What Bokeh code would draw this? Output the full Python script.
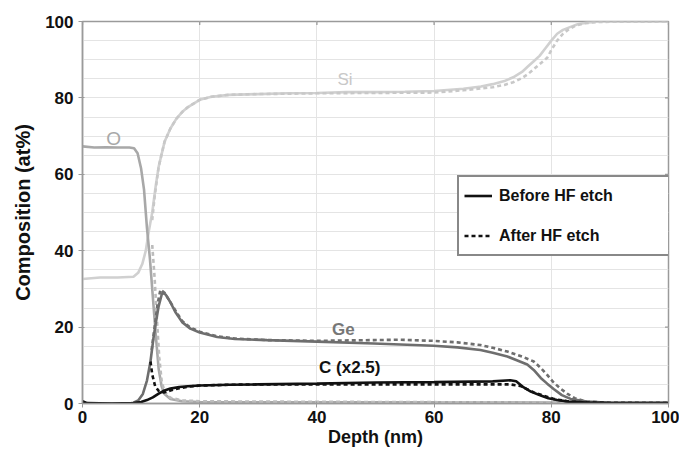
from bokeh.plotting import figure
from bokeh.models import (Range1d, FixedTicker, SingleIntervalTicker,
                          Legend, LegendItem, ColumnDataSource)
from bokeh.core.properties import value
from bokeh.embed import file_html
from bokeh.resources import INLINE

# ---------------- data ----------------
si_before_x = [0, 3, 6, 8.7, 9.5, 10.2, 10.8, 11.3, 11.9, 12.5, 13, 14, 15, 16, 17, 18, 20, 22, 25, 30,
               35, 40, 45, 50, 55, 60, 65, 68, 70, 72, 73.5, 75, 76, 77, 78, 79, 80, 81, 82, 83.3,
               84.5, 86, 88, 100]
si_before_y = [32.6, 33, 33, 33.2, 34.2, 36.5, 40, 45, 50, 57, 62, 68.5, 72, 74.5, 76.3, 77.6, 79.5,
               80.3, 80.8, 81, 81.2, 81.3, 81.5, 81.5, 81.6, 81.8, 82.4, 83, 83.6, 84.4, 85.4, 86.8,
               88.2, 89.6, 91, 93, 95, 96.8, 97.8, 98.6, 99.3, 99.7, 100, 100]
si_after_x = [11.9, 12.3, 13, 14, 15, 16, 17, 18, 20, 22, 25, 30, 40, 50, 60, 65, 70, 72, 73.5, 75,
              76, 77, 78, 79.3, 80, 81, 82, 83, 84, 85.5, 88, 100]
si_after_y = [48, 54, 62, 68.5, 72, 74.5, 76.3, 77.6, 79.5, 80.3, 80.8, 81, 81.2, 81.3, 81.4, 82,
              82.8, 83.4, 84.1, 85.2, 86.2, 87.5, 88.8, 90.5, 92.5, 95, 96.8, 98, 98.8, 99.5, 99.9, 100]

o_before_x = [0, 2, 4, 6, 8, 8.8, 9.4, 10, 10.5, 11, 11.5, 12, 12.5, 13, 13.5, 14, 15, 17, 20, 30,
              50, 70, 90, 100]
o_before_y = [67.3, 67, 67.1, 67, 67, 66.8, 65.5, 61.5, 56, 46, 38, 28, 18, 9, 4.5, 2.5, 1.2, 0.6,
              0.4, 0.3, 0.3, 0.3, 0.2, 0.2]
o_after_x = [11.9, 12.3, 12.7, 13.1, 13.5, 14, 15, 17, 20, 30, 50, 70, 85, 100]
o_after_y = [41.5, 33, 22, 12, 6, 3, 1.5, 0.8, 0.6, 0.5, 0.4, 0.3, 0.2, 0.2]

ge_before_x = [0, 5, 8, 8.7, 9.5, 10.3, 11, 11.6, 12.1, 12.5, 13, 13.6, 14.2, 15, 15.9, 17, 18.4,
               20, 23, 26, 31.5, 40, 49.7, 59.9, 64, 67.9, 70, 72.5, 74, 75.9, 77, 78.2, 79.3,
               80.4, 81.8, 83.3, 86.1, 90, 100]
ge_before_y = [0, 0, 0, 0.2, 0.8, 2.5, 6, 11, 17, 21, 25.5, 29, 28.5, 26.5, 23.8, 21.3, 19.6, 18.6,
               17.4, 16.9, 16.6, 16.2, 15.7, 15.1, 14.7, 14.0, 13.3, 12.3, 11.4, 10.2, 8.8, 6.7,
               5.2, 3.8, 2.2, 1.2, 0.5, 0.2, 0.1]
ge_after_x = [11.8, 12.3, 12.8, 13.3, 14, 15, 16, 17, 18.4, 20, 23, 26, 31.5, 40, 49.7, 54.3, 59.9,
              64, 67.9, 70, 72.5, 75, 77, 78.2, 79.3, 80.4, 81.5, 82.7, 84, 86, 90, 100]
ge_after_y = [14, 20, 26, 29.8, 29, 26.5, 24, 21.6, 19.9, 18.8, 17.6, 17, 16.6, 16.4, 16.6, 16.7,
              16.4, 16, 15.3, 14.6, 13.6, 12.3, 11, 9.3, 7.5, 5.5, 4, 2.6, 1.4, 0.5, 0.2, 0.1]

c_before_x = [0, 0.8, 5, 8.7, 10, 11, 12, 13, 14, 15, 16.5, 18, 20, 25, 30, 40, 50, 60, 70, 73,
              74, 75.3, 76.5, 78.2, 79.5, 81, 83, 86, 90, 100]
c_before_y = [0.6, 0.1, 0, 0.1, 0.4, 0.9, 1.6, 2.6, 3.4, 3.9, 4.3, 4.5, 4.7, 4.9, 5.0, 5.2, 5.5,
              5.6, 5.8, 6.1, 5.8, 4.2, 3.1, 2.1, 1.4, 0.9, 0.5, 0.25, 0.1, 0.1]
c_after_x = [11.6, 11.9, 12.4, 13, 13.9, 15, 16.5, 18, 20, 25, 30, 40, 50, 60, 70, 73, 74.7, 77,
             80.4, 83, 86, 90, 100]
c_after_y = [11, 7.6, 4.5, 3.3, 2.9, 3.4, 4, 4.4, 4.7, 4.9, 5.0, 5.0, 5.0, 5.0, 5.0, 5.0, 4.6, 2.9,
             1.2, 0.5, 0.3, 0.1, 0.1]

label_text = ["O", "Si", "Ge", "C (x2.5)"]
label_x = [5.3, 44.8, 44.5, 45.6]
label_y = [69.5, 84.7, 19.3, 9.4]
label_color = ["#a8a8a8", "#c8c8c8", "#777777", "#111111"]
label_style = ["normal", "normal", "bold", "bold"]
label_size = ["19px", "17px", "17px", "17px"]

x_ticks = [0, 20, 40, 60, 80, 100]
y_ticks = [0, 20, 40, 60, 80, 100]

legend_labels = ["Before HF etch", "After HF etch"]

# ---------------- figure ----------------
FONT = "Liberation Sans"
AXC = "#9a9a9a"
p = figure(width=679, height=449, output_backend="svg", toolbar_location=None,
           x_range=Range1d(0, 100), y_range=Range1d(0, 100),
           min_border_left=82, min_border_right=11, min_border_top=21, min_border_bottom=44)
p.background_fill_color = "white"
p.border_fill_color = "white"
p.outline_line_color = AXC
p.outline_line_width = 1.5

for ax in (p.xaxis[0], p.yaxis[0]):
    ax.axis_line_color = AXC
    ax.axis_line_width = 1.5
    ax.major_tick_line_color = AXC
    ax.major_tick_out = 4
    ax.major_tick_in = 2
    ax.minor_tick_line_color = None
    ax.major_label_text_font = FONT
    ax.major_label_text_font_style = "bold"
    ax.major_label_text_font_size = "17px"
    ax.major_label_text_color = "#111111"
    ax.axis_label_text_font = FONT
    ax.axis_label_text_font_style = "bold"
    ax.axis_label_text_color = "#111111"

p.xaxis.ticker = FixedTicker(ticks=x_ticks)
p.yaxis.ticker = FixedTicker(ticks=y_ticks)
p.xaxis.axis_label = "Depth (nm)"
p.yaxis.axis_label = "Composition (at%)"
p.xaxis.axis_label_text_font_size = "18px"
p.yaxis.axis_label_text_font_size = "20px"
p.xaxis.major_label_standoff = 3
p.yaxis.major_label_standoff = 5
p.xaxis.axis_label_standoff = 1
p.yaxis.axis_label_standoff = 8

p.xgrid.ticker = SingleIntervalTicker(interval=20)
p.ygrid.ticker = SingleIntervalTicker(interval=5)
p.xgrid.grid_line_color = "#e4e4e4"
p.ygrid.grid_line_color = "#e4e4e4"

# small tick marks on the right and top frame edges
p.scatter([p.x_range.end] * len(y_ticks), y_ticks, marker="dash", size=7,
          line_color=AXC, line_width=1.3)
p.scatter(x_ticks, [p.y_range.end] * len(x_ticks), marker="dash", size=7, angle=1.5708,
          line_color=AXC, line_width=1.3)

LW = 2.6
DASH = "4 3"
p.line(si_before_x, si_before_y, line_color="#d0d0d0", line_width=LW)
p.line(si_after_x, si_after_y, line_color="#c8c8c8", line_width=LW, line_dash=DASH)
p.line(o_before_x, o_before_y, line_color="#a8a8a8", line_width=LW)
p.line(o_after_x, o_after_y, line_color="#bcbcbc", line_width=LW, line_dash=DASH)
p.line(ge_before_x, ge_before_y, line_color="#6e6e6e", line_width=LW)
p.line(ge_after_x, ge_after_y, line_color="#6e6e6e", line_width=LW, line_dash=DASH)
r_before = p.line(c_before_x, c_before_y, line_color="#111111", line_width=LW)
r_after = p.line(c_after_x, c_after_y, line_color="#111111", line_width=LW, line_dash=DASH)

src = ColumnDataSource(dict(x=label_x, y=label_y, t=label_text, c=label_color,
                            s=label_style, fs=label_size))
p.text(x="x", y="y", text="t", text_color="c", source=src, text_font=value(FONT),
       text_font_style="s", text_font_size="fs", text_align="center",
       text_baseline="middle")

legend = Legend(items=[LegendItem(label=legend_labels[0], renderers=[r_before]),
                       LegendItem(label=legend_labels[1], renderers=[r_after])],
                location=(375, 147))
legend.margin = 0
legend.padding = 5
legend.spacing = 13
legend.glyph_width = 28
legend.glyph_height = 27
legend.label_height = 27
legend.label_width = 166
legend.label_standoff = 7
legend.label_text_font = FONT
legend.label_text_font_style = "bold"
legend.label_text_font_size = "16px"
legend.label_text_color = "#111111"
legend.border_line_color = "#111111"
legend.border_line_width = 2
legend.background_fill_color = "white"
legend.background_fill_alpha = 1
p.add_layout(legend, "center")

open("out.html", "w").write(file_html(p, INLINE))
